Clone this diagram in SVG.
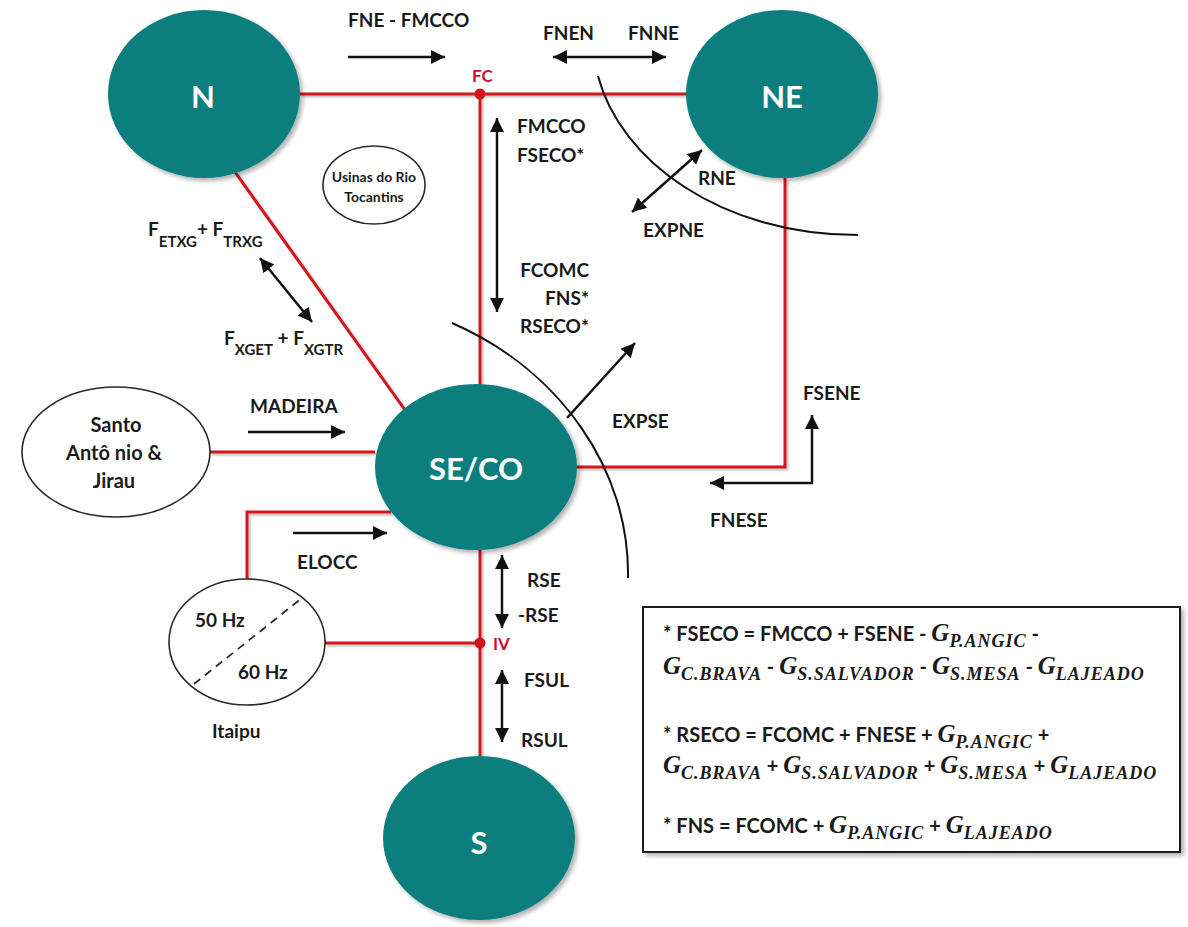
<svg xmlns="http://www.w3.org/2000/svg" width="1188" height="927" viewBox="0 0 1188 927">
  <defs>
    <style>
      .lbl { font-family: Lato, "Open Sans", "Liberation Sans", sans-serif; font-weight: bold; font-size: 19px; fill: #1a1a1a; }
      .sub { font-size: 15px; }
      .node-txt { font-family: Lato, "Open Sans", "Liberation Sans", sans-serif; font-weight: bold; font-size: 31px; fill: #ffffff; text-anchor: middle; }
      .bus { font-family: Lato, "Open Sans", "Liberation Sans", sans-serif; font-weight: bold; font-size: 17px; fill: #c8102e; }
      .small { font-family: Lato, "Open Sans", "Liberation Sans", sans-serif; font-weight: bold; font-size: 14px; fill: #1a1a1a; text-anchor: middle; }
      .plant { font-family: Lato, "Open Sans", "Liberation Sans", sans-serif; font-weight: bold; font-size: 20px; fill: #1a1a1a; text-anchor: middle; }
      .region { fill: #107e7e; filter: url(#shadow); }
      .outline { fill: #ffffff; stroke: #2a2a2a; stroke-width: 1.6; }
      .line { fill: none; stroke: #d3121c; stroke-width: 3; }
      .flow { fill: none; stroke: #111111; stroke-width: 2.5; }
      .cut { fill: none; stroke: #111111; stroke-width: 2; }
      .eq { font-size: 20px; }
      .mi { font-family: "Liberation Serif", "DejaVu Serif", serif; font-style: italic; font-weight: bold; font-size: 25px; }
      .ms { font-family: "Liberation Serif", "DejaVu Serif", serif; font-style: italic; font-weight: bold; font-size: 18px; letter-spacing: 1px; }
    </style>
    <filter id="shadow" x="-10%" y="-10%" width="125%" height="125%">
      <feDropShadow dx="3" dy="3" stdDeviation="2" flood-color="#000000" flood-opacity="0.3"/>
    </filter>
    <filter id="lshadow" x="-5%" y="-5%" width="110%" height="110%">
      <feDropShadow dx="2" dy="2" stdDeviation="1.2" flood-color="#000000" flood-opacity="0.25"/>
    </filter>
    <marker id="ah" viewBox="0 0 12 12" refX="12" refY="6" markerWidth="14" markerHeight="14" markerUnits="userSpaceOnUse" orient="auto-start-reverse">
      <path d="M0,0 L12,6 L0,12 z" fill="#111111"/>
    </marker>
  </defs>

  <rect width="1188" height="927" fill="#ffffff"/>

  <!-- transmission lines between regions -->
  <g id="connectors" filter="url(#lshadow)">
    <path class="line" d="M300,94 H687"/>
    <path class="line" d="M480,94 V385"/>
    <path class="line" d="M785,178 V467 H577"/>
    <path class="line" d="M235,172 L405,410"/>
    <path class="line" d="M210,452 H375"/>
    <path class="line" d="M391,512 H247 V580"/>
    <path class="line" d="M325,643 H480"/>
    <path class="line" d="M480,550 V757"/>
  </g>

  <!-- busbars -->
  <g id="bus-fc">
    <circle cx="480" cy="94" r="5.5" fill="#d3121c"/>
    <text class="bus" x="472" y="82">FC</text>
  </g>
  <g id="bus-iv">
    <circle cx="480" cy="643" r="5.5" fill="#d3121c"/>
    <text class="bus" x="493" y="650">IV</text>
  </g>

  <!-- regional subsystems -->
  <g id="node-n">
    <ellipse class="region" cx="204" cy="94" rx="96" ry="84"/>
    <text class="node-txt" x="203" y="108">N</text>
  </g>
  <g id="node-ne">
    <ellipse class="region" cx="782" cy="94" rx="96" ry="84"/>
    <text class="node-txt" x="782" y="108">NE</text>
  </g>
  <g id="node-seco">
    <ellipse class="region" cx="476" cy="467" rx="101" ry="83"/>
    <text class="node-txt" x="476" y="480">SE/CO</text>
  </g>
  <g id="node-s">
    <ellipse class="region" cx="479" cy="838" rx="96" ry="82"/>
    <text class="node-txt" x="479" y="854">S</text>
  </g>

  <!-- plants -->
  <g id="node-tocantins">
    <ellipse class="outline" cx="374" cy="185" rx="51" ry="39"/>
    <text class="small" x="374" y="182">Usinas do Rio</text>
    <text class="small" x="374" y="202">Tocantins</text>
  </g>
  <g id="node-madeira">
    <ellipse class="outline" cx="116" cy="452" rx="94" ry="65"/>
    <text class="plant" x="116" y="432">Santo</text>
    <text class="plant" x="114" y="460">Antô nio &amp;</text>
    <text class="plant" x="114" y="488">Jirau</text>
  </g>
  <g id="node-itaipu">
    <ellipse class="outline" cx="247" cy="642" rx="78" ry="63"/>
    <path d="M194,684 L302,598" fill="none" stroke="#2a2a2a" stroke-width="1.8" stroke-dasharray="8 6"/>
    <text class="lbl" x="195" y="627">50 Hz</text>
    <text class="lbl" x="238" y="679">60 Hz</text>
    <text class="lbl" x="212" y="738">Itaipu</text>
  </g>

  <!-- interchange flow arrows -->
  <g id="flows">
    <path class="flow" d="M348,57 H445" marker-end="url(#ah)"/>
    <path class="flow" d="M553,57 H666" marker-start="url(#ah)" marker-end="url(#ah)"/>
    <path class="flow" d="M497,118 V312" marker-start="url(#ah)" marker-end="url(#ah)"/>
    <path class="flow" d="M702,150 L632,212" marker-start="url(#ah)" marker-end="url(#ah)"/>
    <path class="flow" d="M567,418 L635,343" marker-end="url(#ah)"/>
    <path class="flow" d="M812,415 V483 H710" marker-start="url(#ah)" marker-end="url(#ah)"/>
    <path class="flow" d="M248,432 H345" marker-end="url(#ah)"/>
    <path class="flow" d="M293,533 H387" marker-end="url(#ah)"/>
    <path class="flow" d="M260,258 L312,322" marker-start="url(#ah)" marker-end="url(#ah)"/>
    <path class="flow" d="M502,555 V628" marker-start="url(#ah)" marker-end="url(#ah)"/>
    <path class="flow" d="M502,670 V742" marker-start="url(#ah)" marker-end="url(#ah)"/>
  </g>

  <!-- export/import cut sections -->
  <g id="cuts">
    <path class="cut" d="M598,76 C620,160 720,235 858,235"/>
    <path class="cut" d="M452,323 C560,370 630,470 628,578"/>
  </g>

  <!-- flow labels -->
  <g id="labels">
    <text class="lbl" x="348" y="27">FNE - FMCCO</text>
    <text class="lbl" x="543" y="40">FNEN</text>
    <text class="lbl" x="628" y="40">FNNE</text>
    <text class="lbl" x="517" y="133">FMCCO</text>
    <text class="lbl" x="517" y="162">FSECO*</text>
    <text class="lbl" x="589" y="277" text-anchor="end">FCOMC</text>
    <text class="lbl" x="589" y="305" text-anchor="end">FNS*</text>
    <text class="lbl" x="589" y="333" text-anchor="end">RSECO*</text>
    <text class="lbl" x="698" y="185">RNE</text>
    <text class="lbl" x="643" y="237">EXPNE</text>
    <text class="lbl" x="612" y="428">EXPSE</text>
    <text class="lbl" x="803" y="400">FSENE</text>
    <text class="lbl" x="710" y="527">FNESE</text>
    <text class="lbl" x="250" y="413">MADEIRA</text>
    <text class="lbl" x="297" y="569">ELOCC</text>
    <text class="lbl" x="527" y="587">RSE</text>
    <text class="lbl" x="518" y="622">-RSE</text>
    <text class="lbl" x="524" y="687">FSUL</text>
    <text class="lbl" x="521" y="747">RSUL</text>
    <text class="lbl" x="148" y="236">F<tspan class="sub" dy="11">ETXG</tspan><tspan dy="-11">+ F</tspan><tspan class="sub" dy="11">TRXG</tspan></text>
    <text class="lbl" x="224" y="345">F<tspan class="sub" dy="10">XGET</tspan><tspan dy="-10"> + F</tspan><tspan class="sub" dy="10">XGTR</tspan></text>
  </g>

  <!-- definitions note -->
  <g id="note">
    <rect x="643" y="607" width="537" height="245" fill="#ffffff" stroke="#1a1a1a" stroke-width="2" filter="url(#shadow)"/>
    <text class="lbl eq" x="663" y="641">* FSECO = FMCCO + FSENE - <tspan class="mi">G</tspan><tspan class="ms" dy="6">P.ANGIC</tspan><tspan dy="-6"> -</tspan></text>
    <text class="lbl eq" x="663" y="674"><tspan class="mi">G</tspan><tspan class="ms" dy="6">C.BRAVA</tspan><tspan dy="-6"> - </tspan><tspan class="mi">G</tspan><tspan class="ms" dy="6">S.SALVADOR</tspan><tspan dy="-6"> - </tspan><tspan class="mi">G</tspan><tspan class="ms" dy="6">S.MESA</tspan><tspan dy="-6"> - </tspan><tspan class="mi">G</tspan><tspan class="ms" dy="6">LAJEADO</tspan></text>
    <text class="lbl eq" x="663" y="742">* RSECO = FCOMC + FNESE  + <tspan class="mi">G</tspan><tspan class="ms" dy="6">P.ANGIC</tspan><tspan dy="-6"> +</tspan></text>
    <text class="lbl eq" x="663" y="773"><tspan class="mi">G</tspan><tspan class="ms" dy="6">C.BRAVA</tspan><tspan dy="-6"> + </tspan><tspan class="mi">G</tspan><tspan class="ms" dy="6">S.SALVADOR</tspan><tspan dy="-6"> + </tspan><tspan class="mi">G</tspan><tspan class="ms" dy="6">S.MESA</tspan><tspan dy="-6"> + </tspan><tspan class="mi">G</tspan><tspan class="ms" dy="6">LAJEADO</tspan></text>
    <text class="lbl eq" x="663" y="833">* FNS = FCOMC + <tspan class="mi">G</tspan><tspan class="ms" dy="6">P.ANGIC</tspan><tspan dy="-6"> + </tspan><tspan class="mi">G</tspan><tspan class="ms" dy="6">LAJEADO</tspan></text>
  </g>
</svg>
